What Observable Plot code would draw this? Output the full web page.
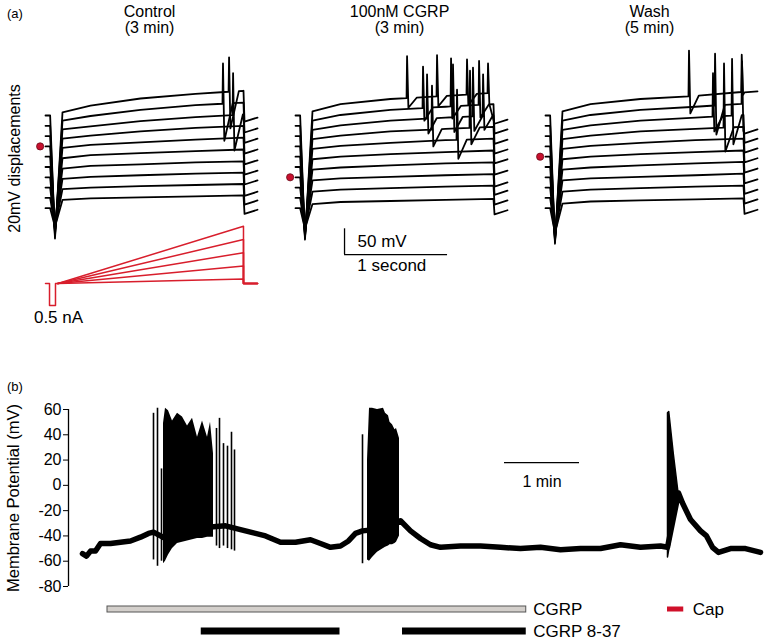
<!DOCTYPE html>
<html><head><meta charset="utf-8">
<script src="https://cdn.jsdelivr.net/npm/d3@7"></script>
<script src="https://cdn.jsdelivr.net/npm/@observablehq/plot@0.6"></script>
<style>
body{margin:0;background:#fff;}
#root{position:relative;width:764px;height:640px;overflow:hidden;font-family:"Liberation Sans",Arial,sans-serif;color:#000;}
.lab{position:absolute;font-size:13px;line-height:1;}
</style></head><body><div id="root"></div>
<script>
// ---------------- Panel (a) data ----------------
const conditions = ["Control", "100nM CGRP", "Wash"];
const conditionTitles = ["Control\n(3 min)", "100nM CGRP\n(3 min)", "Wash\n(5 min)"];
const riseTimes = [165, 437, 922, 1456, 1922]; // ms, plateau reading times
// plateau depolarisation (mV, relative to each trace's start) at riseTimes, 10 traces top->bottom
const controlRise = [[6,19,33,42,48],[10,19,31,40,45],[13,19,29,37,42],[15,21,29,36,40],[17,23,28,33,37],
                     [17,23,27,31,34],[17,22,25,29,31],[17,21,24,27,29],[17,20,23,25,27],[16,19,21,23,25]];
const cgrpRise = [[8,22,32,38,44],[10,21,31,37,42],[12,21,30,36,40],[14,21,29,34,38],[15,21,27,32,35],
                  [15,20,25,29,32],[15,19,23,27,29],[14,18,21,24,26],[12,16,19,22,24],[8,12,14,16,18]];
const washRise = [[8,22,32,38,46],[10,21,31,37,43],[12,21,30,36,41],[14,21,29,34,38],[15,21,27,32,35],
                  [15,20,25,29,32],[15,19,23,27,30],[14,18,21,24,27],[12,16,19,22,24],[9,13,15,17,19]];
const controlTrough = [-239,-215,-191,-167,-145,-123,-101,-79,-57,-36];
const cgrpTrough = [-241,-218,-196,-174,-151,-129,-107,-84,-62,-40];
const washTrough = [-249,-226,-204,-182,-159,-137,-115,-92,-70,-48];
const controlTailStart = [-12,-13,-13,-14,-15,-15,-14,-16,-13,-11];
const controlTailEnd = [-4,-5,-5,-6,-7,-7,-6,-8,-5,-3];
const cgrpTailStart = [-16,-15,-15,-14,-13,-15,-18,-14,-13,-12];
const cgrpTailEnd = [-8,-7,-7,-6,-5,-7,-10,-6,-5,-4];
const washTailStart = [45,-15,-13,-12,-11,-11,-12,-12,-11,-11];
const washTailEnd = [47,-7,-5,-4,-3,-3,-4,-4,-3,-3];
// spikes: [trace, time ms, peak mV, after-hyperpolarisation mV]
const controlSpikes = [[0,1777,113,-25],[1,1718,121,-29],[2,1816,122,-28]];
const cgrpSpikes = [[0,1078,115,15],[0,1369,117,18],[0,1660,109,20],[0,1864,101,22],
                    [1,1233,115,10],[1,1505,131,14],[1,1777,126,16],
                    [2,1272,120,5],[2,1524,139,8],[2,1718,133,10],[2,1816,120,12],
                    [3,1320,118,0],[3,1689,147,4],[4,1563,130,-4]];
const washSpikes = [[0,1388,126,4],[0,1900,118,40],[1,1641,140,-17],[1,1903,125,-10],
                    [2,1621,122,9],[2,1806,150,-16],[3,1728,161,-10]];
const redDotTrace = [3, 6, 4];
const displacement = 20; // mV between traces
// current protocol (nA, ms)
const stepTimes = [0, 39, 39, 97, 97, 120];
const stepCurrent = [0, 0, -0.5, -0.5, 0, 0];
const rampTimes = [120, 1922, 1922, 2058];
const rampPeaks = [0.1, 0.4, 0.7, 1.0, 1.3];

// ---------------- Panel (b) data ----------------
const yTicks = [-80,-60,-40,-20,0,20,40,60];
const baseT = [0,3.2,6.4,10.4,14.4,22.4,30.4,38.4,46.4,52.8,56.8,66.4,78.4,90.4,102.4,114.4,122.4,134.4,146.4,158.4,170.4,182.4,190.4,198.4,206.4,212.8,218.4,224,234.4,246.4,254.4,262.4,270.4,278.4,286.4,302.4,318.4,334.4,350.4,366.4,382.4,398.4,414.4,430.4,446.4,462.4,468,476.8,480,486.4,494.4,499.2,504,508.8,518.4,530.4,542.4];
const baseV = [-54,-56,-52,-52,-46,-46,-45,-44,-41,-38,-37,-42,-38,-35,-33,-32,-34,-37,-40,-45,-45,-43,-46,-49,-48,-44,-38,-36,-35,-32,-28,-36,-42,-47,-49,-48,-48,-49,-50,-49,-51,-50,-50,-47,-49,-48,-49,-6,-14,-27,-36,-40,-49,-53,-50,-50,-53];
const burst1T = [64.8,66.4,68.8,72,76,80,84,88,92,96,100,102.4,104.8];
const burst1Hi = [49,61,59,51,57,54,47,53,38,51,38,50,25];
const burst1Lo = [-62,-60,-55,-50,-46,-45,-44,-43,-42,-42,-41,-41,-41];
const burst2T = [228,229.6,232,236,240.8,242.4,244.8,246,248,250,251.2,253.6];
const burst2Hi = [20,61,61,60,61,57,55,50,48,44,45,37];
const burst2Lo = [-59,-60,-57,-53,-50,-49,-48,-47,-47,-46,-45,-40];
const capT = [468.4,469.4,473,476.8];
const capHi = [57,58,25,-6];
const capLo = [-57,-51,-30,-8];
const spikeT = [56.8,60,63.2,107.2,109.6,112.8,116,119.2,121.6,224];
const spikeHi = [57,61,13,45,53,33,31,42,28,40];
const spikeLo = [-59,-64,-60,-48,-50,-48,-50,-51,-52,-62];
const barRows = ["CGRP", "CGRP 8-37"];
const cgrpOn = [[20, 355]];
const antagonistOn = [[95, 206], [256, 355]];
const capOn = [[468, 481]];

// ---------------- build ----------------
const FONT = "Liberation Sans, Arial, sans-serif";
const root = document.getElementById("root");
function place(el, top, left) { el.style.position = "absolute"; el.style.top = top + "px"; el.style.left = left + "px"; root.appendChild(el); }

function buildRows(cond, rise, trough, spikes, tailStart, tailEnd) {
  const rows = [];
  const last = riseTimes[riseTimes.length - 1];
  rise.forEach((r, i) => {
    const level = t => {
      if (t <= riseTimes[0]) return r[0];
      for (let k = 0; k < riseTimes.length - 1; k++) {
        if (t <= riseTimes[k + 1]) { const f = (t - riseTimes[k]) / (riseTimes[k + 1] - riseTimes[k]); return r[k] + f * (r[k + 1] - r[k]); }
      }
      return r[r.length - 1];
    };
    const sp = spikes.filter(s => s[0] === i).sort((a, b) => a[1] - b[1]);
    const windows = [], spikePts = [];
    sp.forEach((s, j) => {
      const [, t, peak, ahp] = s;
      const next = j + 1 < sp.length ? sp[j + 1][1] : Infinity;
      const rec = t + 100;
      spikePts.push([t, level(t)], [t + 5, peak], [t + 18, ahp]);
      if (rec < next && rec < last) spikePts.push([rec, level(rec)]);
      windows.push([t, rec >= last ? last + 1 : Math.min(rec, next)]);
    });
    const basePts = riseTimes.map((t, k) => [t, r[k]]).filter(([t]) => !windows.some(([a, b]) => t > a && t <= b));
    const pts = [[0, 0], [45, 0], [92, trough[i]], ...basePts, ...spikePts].sort((a, b) => a[0] - b[0]);
    pts.push([1932, tailStart[i]], [2058, tailEnd[i]]);
    pts.forEach(([t, v]) => rows.push({cond, key: cond + i, t, v: v - displacement * i}));
  });
  return rows;
}

const traceRows = [
  ...buildRows(conditions[0], controlRise, controlTrough, controlSpikes, controlTailStart, controlTailEnd),
  ...buildRows(conditions[1], cgrpRise, cgrpTrough, cgrpSpikes, cgrpTailStart, cgrpTailEnd),
  ...buildRows(conditions[2], washRise, washTrough, washSpikes, washTailStart, washTailEnd)
];

const panelA = Plot.plot({
  width: 764, height: 330, marginTop: 0, marginBottom: 0, marginLeft: 45, marginRight: 7,
  style: {fontFamily: FONT, fontSize: "16px", background: "transparent", overflow: "visible", color: "black"},
  facet: {marginTop: 0, marginBottom: 0, marginLeft: 0, marginRight: 0},
  fx: {domain: conditions, paddingInner: 0.152, paddingOuter: 0, round: false, axis: null, label: null},
  x: {domain: [0, 2058], axis: null},
  y: {domain: [-417.5, 223.3], axis: null},
  marks: [
    Plot.line(traceRows, {fx: "cond", x: "t", y: "v", z: "key", stroke: "black", strokeWidth: 1.8, strokeLinejoin: "round"}),
    Plot.dot(conditions, {fx: d => d, x: () => -52, y: (d, i) => -displacement * redDotTrace[i], r: 3.6, fill: "#c8102e", stroke: "#6a0a18", strokeWidth: 0.8}),
    Plot.text(conditions, {fx: d => d, x: () => 1010, text: (d, i) => conditionTitles[i], frameAnchor: "top", lineAnchor: "top", textAnchor: "middle", dy: 5, fontSize: 16, lineHeight: 1.02}),
    Plot.text(["20mV displacements"], {fx: () => conditions[0], frameAnchor: "left", textAnchor: "middle", rotate: -90, dx: -31, dy: -7, fontSize: 16}),
    // scale bars
    Plot.ruleX([476], {fx: () => conditions[1], y1: -270, y2: -220, stroke: "black", strokeWidth: 1.3}),
    Plot.ruleY([-270], {fx: () => conditions[1], x1: 476, x2: 1476, stroke: "black", strokeWidth: 1.3}),
    Plot.text(["50 mV"], {fx: () => conditions[1], x: () => 602, y: () => -245, textAnchor: "start", fontSize: 17}),
    Plot.text(["1 second"], {fx: () => conditions[1], x: () => 935, y: () => -292, fontSize: 17})
  ]
});
place(panelA, 0, 0);

// current protocol
const protoRows = [];
stepTimes.forEach((t, k) => protoRows.push({key: "step", t, c: stepCurrent[k]}));
rampPeaks.forEach((p, j) => {
  [0, p, 0, 0].forEach((c, k) => protoRows.push({key: "ramp" + j, t: rampTimes[k], c}));
});
const protocol = Plot.plot({
  width: 270, height: 115, marginTop: 0, marginBottom: 0, marginLeft: 45, marginRight: 13,
  style: {fontFamily: FONT, background: "transparent", overflow: "visible", color: "black"},
  x: {domain: [0, 2058], axis: null},
  y: {domain: [-1.068, 1.545], axis: null},
  marks: [
    Plot.line(protoRows, {x: "t", y: "c", z: "key", stroke: "#d81e2c", strokeWidth: 1.5}),
    Plot.text(["0.5 nA"], {frameAnchor: "bottom-left", textAnchor: "middle", dx: 13, dy: -8, fontSize: 17})
  ]
});
place(protocol, 215, 0);

// ---------------- Panel (b) ----------------
const xDomB = [-11.2, 542.4];
const panelB = Plot.plot({
  width: 764, height: 205, marginTop: 19, marginBottom: 9, marginLeft: 68, marginRight: 4,
  style: {fontFamily: FONT, fontSize: "16px", background: "transparent", overflow: "visible", color: "black"},
  x: {domain: xDomB, axis: null},
  y: {domain: [-80, 60], axis: null},
  marks: [
    Plot.ruleX([xDomB[0]], {y1: -80, y2: 60, stroke: "black", strokeWidth: 1.3}),
    Plot.axisY({ticks: yTicks, tickSize: 5, tickPadding: 2, tickFormat: d => String(d), fontSize: 16, label: null, stroke: "black"}),
    Plot.text(["Membrane Potential (mV)"], {frameAnchor: "left", textAnchor: "middle", rotate: -90, dx: -55, fontSize: 16.5}),
    Plot.line(baseT, {x: d => d, y: (d, i) => baseV[i], stroke: "black", strokeWidth: 5.5, strokeLinejoin: "round"}),
    Plot.areaY(burst1T, {x: d => d, y1: (d, i) => burst1Lo[i], y2: (d, i) => burst1Hi[i], fill: "black", curve: "linear"}),
    Plot.areaY(burst2T, {x: d => d, y1: (d, i) => burst2Lo[i], y2: (d, i) => burst2Hi[i], fill: "black", curve: "linear"}),
    Plot.areaY(capT, {x: d => d, y1: (d, i) => capLo[i], y2: (d, i) => capHi[i], fill: "black", stroke: "black", strokeWidth: 1.5}),
    Plot.ruleX(spikeT, {x: d => d, y1: (d, i) => spikeLo[i], y2: (d, i) => spikeHi[i], stroke: "black", strokeWidth: 1.6}),
    Plot.ruleY([18], {x1: 337.6, x2: 397.6, stroke: "black", strokeWidth: 1.2}),
    Plot.text(["1 min"], {x: () => 367.6, y: () => 3, fontSize: 16})
  ]
});
place(panelB, 390, 0);

const bars = Plot.plot({
  width: 764, height: 44, marginTop: 0, marginBottom: 0, marginLeft: 68, marginRight: 4,
  style: {fontFamily: FONT, fontSize: "17px", background: "transparent", overflow: "visible", color: "black"},
  x: {domain: xDomB, axis: null},
  y: {domain: barRows, range: [0, 44], padding: 0, axis: null},
  marks: [
    Plot.barX(cgrpOn, {x1: d => d[0], x2: d => d[1], y: () => barRows[0], fill: "#d3cfcb", stroke: "#555", strokeWidth: 1, insetTop: 8, insetBottom: 8}),
    Plot.barX(antagonistOn, {x1: d => d[0], x2: d => d[1], y: () => barRows[1], fill: "black", insetTop: 7.5, insetBottom: 7.5}),
    Plot.barX(capOn, {x1: d => d[0], x2: d => d[1], y: () => barRows[0], fill: "#d0102a", insetTop: 8.5, insetBottom: 8.5}),
    Plot.text(barRows, {x: () => cgrpOn[0][1], y: d => d, text: d => d, textAnchor: "start", dx: 7, fontSize: 17}),
    Plot.text(["Cap"], {x: () => capOn[0][1], y: () => barRows[0], textAnchor: "start", dx: 9, fontSize: 17})
  ]
});
place(bars, 598, 0);

const la = document.createElement("div"); la.className = "lab"; la.textContent = "(a)"; place(la, 7, 7);
const lb = document.createElement("div"); lb.className = "lab"; lb.textContent = "(b)"; place(lb, 380, 7);
</script></body></html>
